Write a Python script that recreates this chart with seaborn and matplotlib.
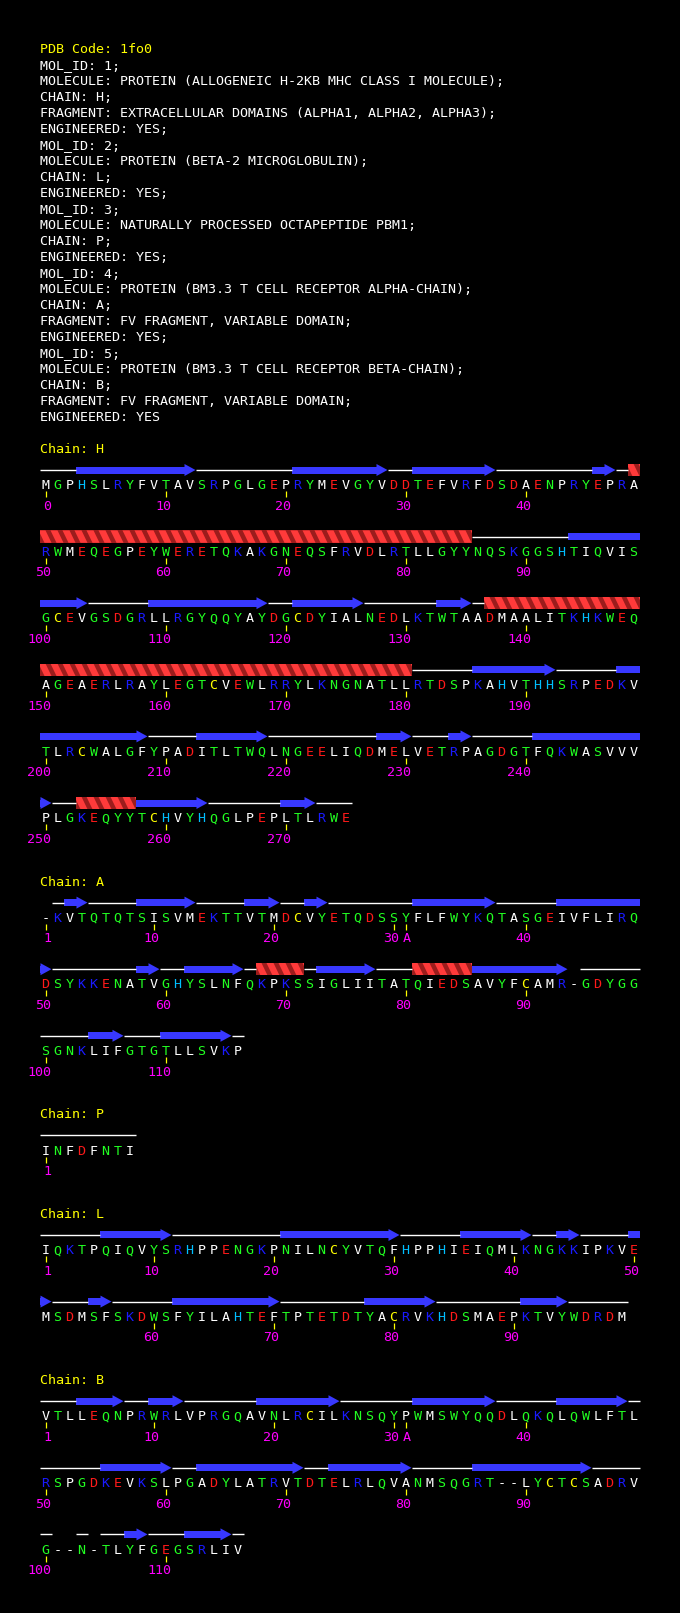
import matplotlib
matplotlib.use('Agg')
import matplotlib.pyplot as plt
from matplotlib.patches import Polygon, Rectangle
import pandas as pd
import seaborn as sns

# ---------------------------------------------------------------- data
header_lines = [
    "PDB Code: 1fo0",
    "MOL_ID: 1;",
    "MOLECULE: PROTEIN (ALLOGENEIC H-2KB MHC CLASS I MOLECULE);",
    "CHAIN: H;",
    "FRAGMENT: EXTRACELLULAR DOMAINS (ALPHA1, ALPHA2, ALPHA3);",
    "ENGINEERED: YES;",
    "MOL_ID: 2;",
    "MOLECULE: PROTEIN (BETA-2 MICROGLOBULIN);",
    "CHAIN: L;",
    "ENGINEERED: YES;",
    "MOL_ID: 3;",
    "MOLECULE: NATURALLY PROCESSED OCTAPEPTIDE PBM1;",
    "CHAIN: P;",
    "ENGINEERED: YES;",
    "MOL_ID: 4;",
    "MOLECULE: PROTEIN (BM3.3 T CELL RECEPTOR ALPHA-CHAIN);",
    "CHAIN: A;",
    "FRAGMENT: FV FRAGMENT, VARIABLE DOMAIN;",
    "ENGINEERED: YES;",
    "MOL_ID: 5;",
    "MOLECULE: PROTEIN (BM3.3 T CELL RECEPTOR BETA-CHAIN);",
    "CHAIN: B;",
    "FRAGMENT: FV FRAGMENT, VARIABLE DOMAIN;",
    "ENGINEERED: YES",
]

chain_order = ['H', 'A', 'P', 'L', 'B']

seq_H = ("MGPHSLRYFVTAVSRPGLGEPRYMEVGYVDDTEFVRFDSDAENPRYEPRA"
         "RWMEQEGPEYWERETQKAKGNEQSFRVDLRTLLGYYNQSKGGSHTIQVIS"
         "GCEVGSDGRLLRGYQQYAYDGCDYIALNEDLKTWTAADMAALITKHKWEQ"
         "AGEAERLRAYLEGTCVEWLRRYLKNGNATLLRTDSPKAHVTHHSRPEDKV"
         "TLRCWALGFYPADITLTWQLNGEELIQDMELVETRPAGDGTFQKWASVVV"
         "PLGKEQYYTCHVYHQGLPEPLTLRWE")
seq_A = ("-KVTQTQTSISVMEKTTVTMDCVYETQDSSYFLFWYKQTASGEIVFLIRQ"
         "DSYKKENATVGHYSLNFQKPKSSIGLIITATQIEDSAVYFCAMR-GDYGG"
         "SGNKLIFGTGTLLSVKP")
seq_P = "INFDFNTI"
seq_L = ("IQKTPQIQVYSRHPPENGKPNILNCYVTQFHPPHIEIQMLKNGKKIPKVE"
         "MSDMSFSKDWSFYILAHTEFTPTETDTYACRVKHDSMAEPKTVYWDRDM")
seq_B = ("VTLLEQNPRWRLVPRGQAVNLRCILKNSQYPWMSWYQQDLQKQLQWLFTL"
         "RSPGDKEVKSLPGADYLATRVTDTELRLQVANMSQGRT--LYCTCSADRV"
         "G--N-TLYFGEGSRLIV")

# first residue number and position of the insertion code "A"
first_num = {'H': 0, 'A': 1, 'P': 1, 'L': 1, 'B': 1}
insert_pos = {'H': None, 'A': 30, 'P': None, 'L': None, 'B': 30}

# secondary structure: (type, first position, last position); c=coil, E=strand, H=helix
ss_H = [('c', 0, 2), ('E', 3, 12), ('c', 13, 20), ('E', 21, 28), ('c', 29, 30),
        ('E', 31, 37), ('c', 38, 45), ('E', 46, 47), ('c', 48, 48), ('H', 49, 85),
        ('c', 86, 93), ('E', 94, 103), ('c', 104, 108), ('E', 109, 118), ('c', 119, 120),
        ('E', 121, 126), ('c', 127, 132), ('E', 133, 135), ('c', 136, 136), ('H', 137, 180),
        ('c', 181, 185), ('E', 186, 192), ('c', 193, 197), ('E', 198, 208), ('c', 209, 212),
        ('E', 213, 218), ('c', 219, 227), ('E', 228, 230), ('c', 231, 233), ('E', 234, 235),
        ('c', 236, 240), ('E', 241, 250), ('c', 251, 252), ('H', 253, 257), ('E', 258, 263),
        ('c', 264, 269), ('E', 270, 272), ('c', 273, 275)]
ss_A = [('c', 1, 1), ('E', 2, 3), ('c', 4, 7), ('E', 8, 12), ('c', 13, 16), ('E', 17, 19),
        ('c', 20, 21), ('E', 22, 23), ('c', 24, 30), ('E', 31, 37), ('c', 38, 42), ('E', 43, 50),
        ('c', 51, 57), ('E', 58, 59), ('c', 60, 61), ('E', 62, 66), ('c', 67, 67), ('H', 68, 71),
        ('c', 72, 72), ('E', 73, 77), ('c', 78, 80), ('H', 81, 85), ('E', 86, 93),
        ('c', 95, 99), ('c', 100, 103), ('E', 104, 106), ('c', 107, 109), ('E', 110, 115),
        ('c', 116, 116)]
ss_P = [('c', 0, 7)]
ss_L = [('c', 0, 4), ('E', 5, 10), ('c', 11, 19), ('E', 20, 29), ('c', 30, 34), ('E', 35, 40),
        ('c', 41, 42), ('E', 43, 44), ('c', 45, 48), ('E', 49, 50), ('c', 51, 53), ('E', 54, 55),
        ('c', 56, 60), ('E', 61, 69), ('c', 70, 76), ('E', 77, 82), ('c', 83, 89), ('E', 90, 93),
        ('c', 94, 98)]
ss_B = [('c', 0, 2), ('E', 3, 6), ('c', 7, 8), ('E', 9, 11), ('c', 12, 17), ('E', 18, 24),
        ('c', 25, 30), ('E', 31, 37), ('c', 38, 42), ('E', 43, 48), ('c', 49, 54), ('E', 55, 60),
        ('c', 61, 62), ('E', 63, 71), ('c', 72, 73), ('E', 74, 80), ('c', 81, 85), ('E', 86, 95),
        ('c', 96, 100), ('c', 103, 103), ('c', 105, 106), ('E', 107, 108), ('c', 109, 111),
        ('E', 112, 115), ('c', 116, 116)]

sequences = {'H': seq_H, 'A': seq_A, 'P': seq_P, 'L': seq_L, 'B': seq_B}
sec_struct = {'H': ss_H, 'A': ss_A, 'P': ss_P, 'L': ss_L, 'B': ss_B}

# ---------------------------------------------------------------- style
res_colors = {}
for aa in "AVLIMFP-":
    res_colors[aa] = '#ffffff'
for aa in "GSTNQYW":
    res_colors[aa] = '#22ff22'
for aa in "DE":
    res_colors[aa] = '#ff1a1a'
for aa in "RK":
    res_colors[aa] = '#1a1aff'
res_colors['H'] = '#00bfff'
res_colors['C'] = '#ffff00'

STRAND = '#3838ff'
HELIX_LIGHT = '#ff3a3a'
HELIX_DARK = '#9c1c1c'
FONT = 'DejaVu Sans Mono'
FS = 9.6

X0, PITCH, PER_ROW = 45.5, 12.0, 50
HEAD_Y0, HEAD_DY = 48.0, 16.0
CHAIN_Y0 = 448.0
HDR_TO_ROW, ROW_H, ROW_TO_HDR = 36.3, 66.6, 63.3
SS_DY, NUM_DY = -14.3, 20.5
CAP = 5.0  # half cap height, used to put baselines

sns.set_theme(style='dark', rc={'axes.facecolor': 'black', 'figure.facecolor': 'black'})
plt.rcParams['font.family'] = [FONT, 'DejaVu Sans']

fig = plt.figure(figsize=(6.8, 16.13), dpi=100)
ax = fig.add_axes([0, 0, 1, 1])
ax.set_facecolor('black')

# header block
for i, line in enumerate(header_lines):
    ax.text(39.5, HEAD_Y0 + i * HEAD_DY + CAP, line, color='#ffff00' if i == 0 else '#ffffff',
            fontsize=FS, family=FONT, ha='left', va='baseline')

# layout of residues
rows = []
row_y = {}
y_hdr = CHAIN_Y0
for ch in chain_order:
    seq = sequences[ch]
    nrows = (len(seq) + PER_ROW - 1) // PER_ROW
    ys = [y_hdr + HDR_TO_ROW + r * ROW_H for r in range(nrows)]
    row_y[ch] = ys
    ax.text(39.5, y_hdr + CAP, "Chain: " + ch, color='#ffff00', fontsize=FS, family=FONT,
            ha='left', va='baseline')
    for pos, aa in enumerate(seq):
        ins = insert_pos[ch]
        if ins is None or pos < ins:
            num = first_num[ch] + pos
        elif pos == ins:
            num = None
        else:
            num = first_num[ch] + pos - 1
        tick = pos == 0 or num is None or num % 10 == 0
        label = 'A' if num is None else str(num)
        rows.append(dict(chain=ch, pos=pos, aa=aa,
                         x=X0 + (pos % PER_ROW) * PITCH, y=ys[pos // PER_ROW],
                         tick=tick, label=label))
    y_hdr = ys[-1] + ROW_TO_HDR

res = pd.DataFrame(rows)

# residue letters
for r in res.itertuples():
    ax.text(r.x, r.y + CAP, r.aa, color=res_colors.get(r.aa, '#ffffff'), fontsize=FS,
            family=FONT, ha='center', va='baseline')

# numbering ticks and labels
ticks = res[res['tick']].copy()
ticks['ty'] = ticks['y'] + 10
sns.scatterplot(data=ticks, x='x', y='ty', marker='|', s=14, color='#ffff00',
                linewidth=0.9, ax=ax, legend=False)
for r in ticks.itertuples():
    ax.text(r.x + 5.5, r.y + NUM_DY + CAP, r.label, color='#ff00ff', fontsize=FS,
            family=FONT, ha='right', va='baseline')


# secondary structure
def draw_helix(xl, xr, y):
    h = 6.2
    base = Rectangle((xl, y - h), xr - xl, 2 * h, facecolor=HELIX_DARK, edgecolor='none')
    ax.add_patch(base)
    n = int(round((xr - xl) / PITCH))
    for k in range(-1, n + 1):
        xs = xl + PITCH * k
        p = Polygon([(xs - 1, y - h), (xs + 6, y - h), (xs + 12, y + h), (xs + 5, y + h)],
                    closed=True, facecolor=HELIX_LIGHT, edgecolor='none')
        ax.add_patch(p)
        p.set_clip_path(base)


def draw_strand(xl, xr, y, head):
    hl = 11.0
    if head:
        if xr - xl > hl + 0.5:
            ax.add_patch(Rectangle((xl, y - 3.5), xr - hl - xl, 7, facecolor=STRAND,
                                   edgecolor='none'))
            hx = xr - hl
        else:
            hx = xl
        ax.add_patch(Polygon([(hx, y - 6), (xr, y), (hx, y + 6)], closed=True,
                             facecolor=STRAND, edgecolor='none'))
    else:
        ax.add_patch(Rectangle((xl, y - 3.5), xr - xl, 7, facecolor=STRAND, edgecolor='none'))


for ch in chain_order:
    for kind, start, end in sec_struct[ch]:
        for r in range(start // PER_ROW, end // PER_ROW + 1):
            ps = max(start, r * PER_ROW)
            pe = min(end, r * PER_ROW + PER_ROW - 1)
            xl = X0 + (ps % PER_ROW) * PITCH - PITCH / 2
            xr = X0 + (pe % PER_ROW) * PITCH + PITCH / 2
            y = row_y[ch][r] + SS_DY
            if kind == 'c':
                ax.plot([xl, xr], [y, y], color='white', lw=1.0, solid_capstyle='butt')
            elif kind == 'E':
                draw_strand(xl, xr, y, pe == end)
            else:
                draw_helix(xl, xr, y)

ax.set_xlim(0, 680)
ax.set_ylim(1613, 0)
ax.axis('off')

fig.savefig('out.png', dpi=100, facecolor='black')
